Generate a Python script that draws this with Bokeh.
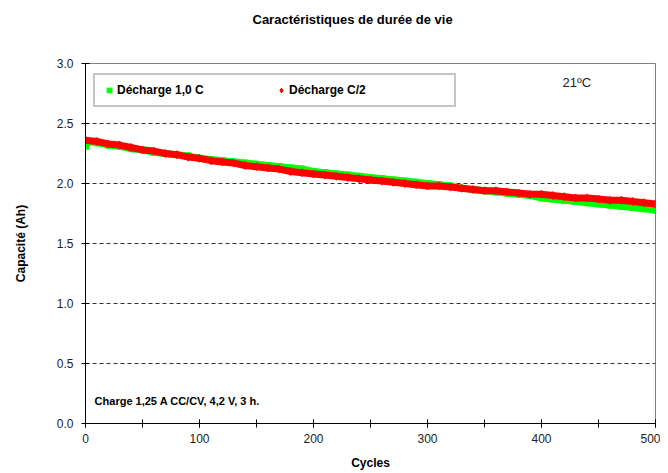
from bokeh.plotting import figure
from bokeh.models import (Range1d, SingleIntervalTicker, FixedTicker, Label,
                          Legend, LegendItem, NumeralTickFormatter, Title)
from bokeh.embed import file_html
from bokeh.resources import INLINE

# ---- data ----
cycles_c2 = [0, 10, 20, 30, 40, 50, 60, 70, 80, 90, 100, 110, 120, 130, 140, 150,
             160, 170, 180, 190, 200, 210, 220, 230, 240, 250, 260, 270, 280, 290,
             300, 310, 320, 330, 340, 350, 360, 370, 380, 390, 400, 410, 420, 430,
             440, 450, 460, 470, 480, 490, 500]
cap_c2 = [2.36, 2.35, 2.33, 2.32, 2.30, 2.28, 2.27, 2.25, 2.24, 2.22, 2.21, 2.19,
          2.18, 2.17, 2.15, 2.14, 2.13, 2.12, 2.10, 2.09, 2.08, 2.07, 2.06, 2.05,
          2.04, 2.03, 2.02, 2.01, 2.00, 1.99, 1.98, 1.98, 1.97, 1.96, 1.95, 1.94,
          1.94, 1.93, 1.92, 1.91, 1.91, 1.90, 1.89, 1.88, 1.88, 1.87, 1.86, 1.86,
          1.85, 1.84, 1.83]

cycles_1c = [0, 3, 10, 20, 30, 40, 50, 60, 70, 80, 90, 100, 110, 120, 130, 140, 150,
             160, 170, 180, 190, 200, 210, 220, 230, 240, 250, 260, 270, 280, 290,
             300, 310, 320, 330, 340, 350, 360, 370, 380, 390, 400, 410, 420, 430,
             440, 450, 460, 470, 480, 490, 500]
cap_1c = [2.31, 2.35, 2.34, 2.32, 2.31, 2.29, 2.28, 2.26, 2.25, 2.24, 2.23, 2.21,
          2.20, 2.19, 2.18, 2.17, 2.16, 2.15, 2.14, 2.13, 2.12, 2.10, 2.09, 2.08,
          2.07, 2.06, 2.05, 2.04, 2.03, 2.02, 2.01, 2.00, 1.99, 1.98, 1.96, 1.95,
          1.94, 1.93, 1.92, 1.91, 1.90, 1.88, 1.87, 1.86, 1.85, 1.84, 1.83, 1.82,
          1.81, 1.80, 1.79, 1.78]

grid_levels = [0.5, 1.0, 1.5, 2.0, 2.5]

FONT = "Liberation Sans"

p = figure(width=660, height=473, output_backend="svg", toolbar_location=None,
           x_range=Range1d(0, 500), y_range=Range1d(0, 3),
           min_border_left=85, min_border_right=5, min_border_top=63,
           min_border_bottom=50, title=None)

p.background_fill_color = "white"
p.border_fill_color = "white"
p.outline_line_color = "#808080"
p.outline_line_width = 1

# spacer (closest to the frame) then the real title above it
p.add_layout(Title(text=" ", text_font=FONT, text_font_size="13px",
                   standoff=20), "above")
p.add_layout(Title(text="Caractéristiques de durée de vie", text_font=FONT,
                   text_font_size="13px", text_font_style="bold",
                   text_color="black", align="left", offset=167, standoff=0),
             "above")

# axes
p.xaxis.ticker = SingleIntervalTicker(interval=100, num_minor_ticks=2)
p.yaxis.ticker = SingleIntervalTicker(interval=0.5, num_minor_ticks=0)
p.yaxis.formatter = NumeralTickFormatter(format="0.0")
for ax in (p.xaxis[0], p.yaxis[0]):
    ax.axis_line_color = "black"
    ax.axis_line_width = 1
    ax.major_tick_line_color = "black"
    ax.minor_tick_line_color = "black"
    ax.major_tick_in = 4
    ax.major_tick_out = 4
    ax.minor_tick_in = 4
    ax.minor_tick_out = 4
    ax.major_label_text_font = FONT
    ax.major_label_text_font_size = "12px"
    ax.major_label_text_color = "#222222"
    ax.axis_label_text_font = FONT
    ax.axis_label_text_font_size = "12px"
    ax.axis_label_text_font_style = "bold"
    ax.axis_label_text_color = "black"

p.xaxis.axis_label = "Cycles"
p.xaxis.major_label_standoff = 6
p.xaxis.axis_label_standoff = 10
p.yaxis.axis_label = "Capacité (Ah)"
p.yaxis.major_label_standoff = 8
p.yaxis.axis_label_standoff = 26

p.xgrid.visible = False
p.ygrid.ticker = FixedTicker(ticks=grid_levels)
p.ygrid.grid_line_color = "#333333"
p.ygrid.grid_line_dash = "4 3"
p.ygrid.grid_line_width = 1

# series: green (1.0 C) drawn first, red (C/2) on top
p.line(cycles_1c, cap_1c, line_color="#00ff00", line_width=7)
sg = p.scatter(cycles_1c, cap_1c, marker="square", size=6, color="#00ff00")
p.line(cycles_c2, cap_c2, line_color="#ff0000", line_width=7)
sr = p.scatter(cycles_c2, cap_c2, marker="diamond", size=8, color="#ff0000")

legend = Legend(items=[LegendItem(label="Décharge 1,0 C", renderers=[sg]),
                       LegendItem(label="Décharge C/2", renderers=[sr])],
                orientation="horizontal", location=(8, 316))
legend.label_text_font = FONT
legend.label_text_font_size = "12px"
legend.label_text_font_style = "bold"
legend.label_text_color = "black"
legend.glyph_width = 12
legend.glyph_height = 12
legend.label_standoff = 2
legend.label_width = 157
legend.spacing = 1
legend.padding = 8
legend.margin = 0
legend.border_line_color = "#8c8c8c"
legend.border_line_width = 2
legend.background_fill_color = "white"
legend.background_fill_alpha = 1
p.add_layout(legend)

# texts
p.add_layout(Label(x=431, y=2.84, text="21ºC", text_font=FONT,
                   text_font_size="13px", text_align="center",
                   text_baseline="middle", text_color="#222222"))
p.add_layout(Label(x=8, y=0.19, text="Charge 1,25 A CC/CV, 4,2 V, 3 h.",
                   text_font=FONT, text_font_size="11px", text_font_style="bold",
                   text_align="left", text_baseline="middle", text_color="black"))

open("out.html", "w").write(file_html(p, INLINE))
